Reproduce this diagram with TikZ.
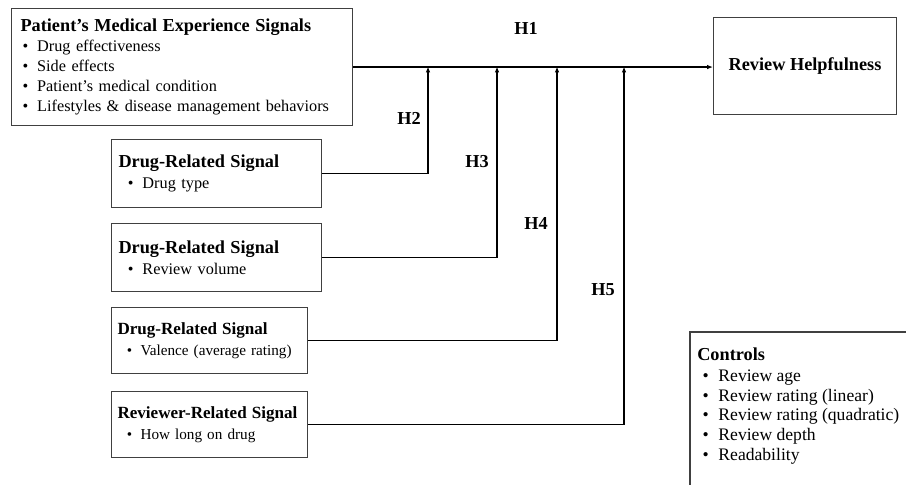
\documentclass[tikz,border=0pt]{standalone}
\usepackage{fontspec}
\setmainfont{Liberation Serif}
\usetikzlibrary{arrows.meta}

\newcommand{\itm}[1]{\textbullet\hspace{0.55em}#1}

\begin{document}
\begin{tikzpicture}[x=0.75pt,y=-0.75pt,
    box/.style={draw=black!75,line width=0.8pt,anchor=north west,align=left,
        inner xsep=5.25pt,inner ysep=0pt,font=\fontsize{12.2}{15}\selectfont},
    small box/.style={box,font=\fontsize{11.4}{14}\selectfont},
    head/.style={font=\bfseries\fontsize{13.7}{16}\selectfont},
    link/.style={line width=1.1pt,-{Latex[length=4.5pt,width=3.5pt]}}]

    \clip (0,0) rectangle (906,485);
    \fill[white] (0,0) rectangle (906,485);

    % signal boxes
    \node[box,text width=242.25pt,minimum height=87.75pt,inner xsep=6.75pt] (pat) at (11,8)
        {\textbf{\fontsize{13.7}{15}\selectfont Patient's Medical Experience Signals}\\[-0.5pt]
         \hspace*{1.5pt}\itm{Drug effectiveness}\\
         \hspace*{1.5pt}\itm{Side effects}\\
         \hspace*{1.5pt}\itm{Patient's medical condition}\\
         \hspace*{1.5pt}\itm{Lifestyles \& disease management behaviors}};
    \node[box,text width=147pt,minimum height=51pt] (drug1) at (111,139)
        {\textbf{\fontsize{13.7}{15}\selectfont Drug-Related Signal}\\[1pt]
         \hspace*{7pt}\itm{Drug type}};
    \node[box,text width=147pt,minimum height=51pt] (drug2) at (111,223)
        {\textbf{\fontsize{13.7}{15}\selectfont Drug-Related Signal}\\[1pt]
         \hspace*{7pt}\itm{Review volume}};
    \node[small box,text width=138pt,minimum height=49.5pt,inner xsep=4.5pt] (drug3) at (111,307)
        {\textbf{\fontsize{12.8}{14}\selectfont Drug-Related Signal}\\[1.5pt]
         \hspace*{7pt}\itm{Valence (average rating)}};
    \node[small box,text width=138pt,minimum height=49.5pt,inner xsep=4.5pt] (revr) at (111,391)
        {\textbf{\fontsize{12.8}{14}\selectfont Reviewer-Related Signal}\\[1.5pt]
         \hspace*{7pt}\itm{How long on drug}};

    % outcome
    \node[box,head,align=center,minimum width=137.25pt,minimum height=72.75pt] (help) at (713,17)
        {Review Helpfulness};

    % controls (box runs off the page)
    \draw[draw=black!75,line width=0.8pt] (690,332) rectangle (930,500);
    \node[anchor=north west,align=left,inner sep=0pt,font=\fontsize{13.2}{14.8}\selectfont] (ctrl) at (697,348)
        {\textbf{\fontsize{13.7}{15}\selectfont Controls}\\[0.5pt]
         \hspace*{4pt}\itm{Review age}\\
         \hspace*{4pt}\itm{Review rating (linear)}\\
         \hspace*{4pt}\itm{Review rating (quadratic)}\\
         \hspace*{4pt}\itm{Review depth}\\
         \hspace*{4pt}\itm{Readability}};

    % junctions on the main path
    \coordinate (j2) at (428,66.5);
    \coordinate (j3) at (497,66.5);
    \coordinate (j4) at (557,66.5);
    \coordinate (j5) at (624,66.5);

    \draw[link] (pat.east) -- (pat.east -| help.west);
    \draw[link] (drug1.east) -| (j2);
    \draw[link] (drug2.east) -| (j3);
    \draw[link] (drug3.east) -| (j4);
    \draw[link] (revr.east) -| (j5);

    % hypothesis labels
    \node[head] (h1) at (526,28) {H1};
    \node[head] (h2) at (409,118) {H2};
    \node[head] (h3) at (477,162) {H3};
    \node[head] (h4) at (536,223) {H4};
    \node[head] (h5) at (603,290) {H5};
\end{tikzpicture}
\end{document}
